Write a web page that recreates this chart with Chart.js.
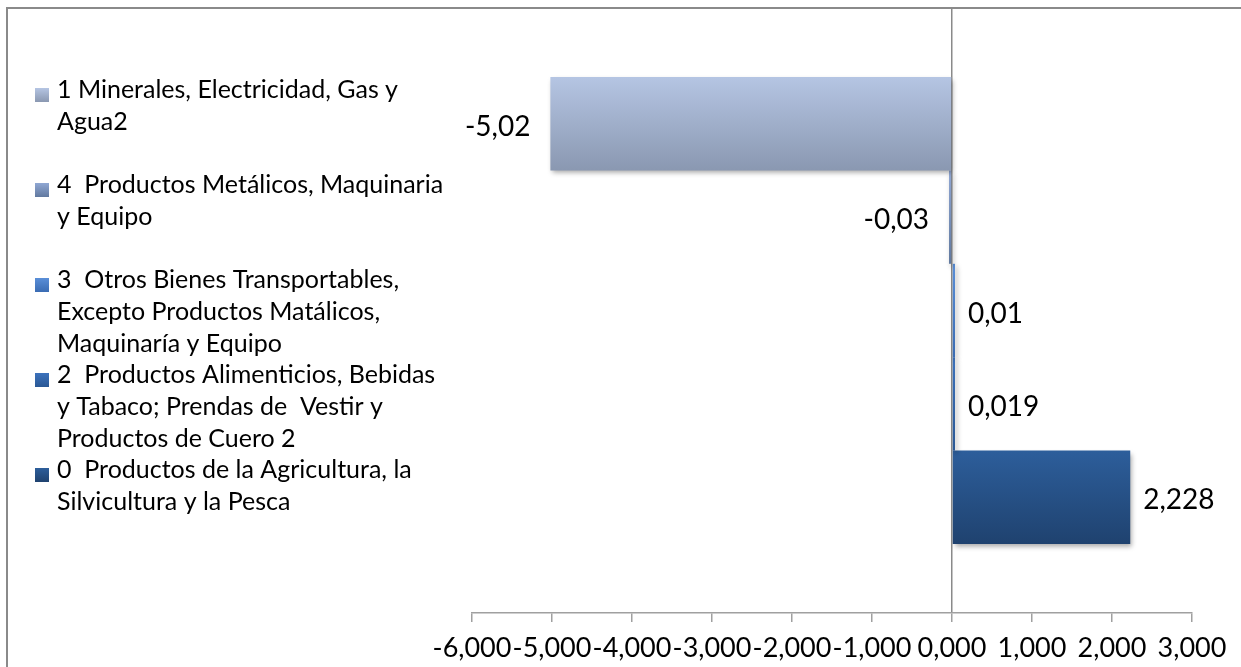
<!DOCTYPE html>
<html><head><meta charset="utf-8">
<script src="https://cdn.jsdelivr.net/npm/chart.js@4.4.1/dist/chart.umd.min.js"></script>
<style>html,body{margin:0;padding:0;background:#fff;overflow:hidden}#wrap{width:1241px;height:667px;position:relative}</style>
</head><body><div id="wrap"><canvas id="c" width="1241" height="667"></canvas></div>
<script>
const categories = [''];
const seriesNames = [
  '1 Minerales, Electricidad, Gas y Agua2',
  '4  Productos Metálicos, Maquinaria y Equipo',
  '3  Otros Bienes Transportables, Excepto Productos Matálicos, Maquinaría y Equipo',
  '2  Productos Alimenticios, Bebidas y Tabaco; Prendas de  Vestir y Productos de Cuero 2',
  '0  Productos de la Agricultura, la Silvicultura y la Pesca'
];
const legendLines = [
  ['1 Minerales, Electricidad, Gas y', 'Agua2'],
  ['4  Productos Metálicos, Maquinaria', 'y Equipo'],
  ['3  Otros Bienes Transportables,', 'Excepto Productos Matálicos,', 'Maquinaría y Equipo'],
  ['2  Productos Alimenticios, Bebidas', 'y Tabaco; Prendas de  Vestir y', 'Productos de Cuero 2'],
  ['0  Productos de la Agricultura, la', 'Silvicultura y la Pesca']
];
const seriesValues = [-5.02, -0.03, 0.01, 0.019, 2.228];
const valueLabels = ['-5,02', '-0,03', '0,01', '0,019', '2,228'];
const tickLabels = ['-6,000','-5,000','-4,000','-3,000','-2,000','-1,000','0,000','1,000','2,000','3,000'];

const gradTop    = ['#B5C5E3', '#90A7D3', '#5A8FD8', '#3C72BC', '#2D5E9B'];
const gradBottom = ['#8A98B1', '#61799F', '#3A6CB3', '#2A5895', '#1F426F'];

const FONT = 'Lato, "Open Sans", sans-serif';

const chartBorder = {
  id: 'chartBorder',
  beforeDraw(chart) {
    const ctx = chart.ctx;
    ctx.save();
    ctx.strokeStyle = '#8a8a8a';
    ctx.lineWidth = 2;
    ctx.strokeRect(7, 8, 1400, 800);
    ctx.restore();
  }
};

const barStyle = {
  id: 'barStyle',
  beforeDatasetsDraw(chart) {
    const ctx = chart.ctx;
    chart.data.datasets.forEach((ds, i) => {
      chart.getDatasetMeta(i).data.forEach(el => {
        const top = el.y - el.height / 2, bot = el.y + el.height / 2;
        const g = ctx.createLinearGradient(0, top, 0, bot);
        g.addColorStop(0, gradTop[i]);
        g.addColorStop(1, gradBottom[i]);
        el.options = Object.assign({}, el.options, { backgroundColor: g });
      });
    });
    ctx.save();
    ctx.shadowColor = 'rgba(0,0,0,0.35)';
    ctx.shadowBlur = 5;
    ctx.shadowOffsetX = 2;
    ctx.shadowOffsetY = 3;
  },
  afterDatasetsDraw(chart) {
    const ctx = chart.ctx;
    ctx.restore();
    ctx.save();
    ctx.font = '28px ' + FONT;
    ctx.fillStyle = '#000';
    ctx.textBaseline = 'middle';
    chart.data.datasets.forEach((ds, i) => {
      chart.getDatasetMeta(i).data.forEach((el, j) => {
        const v = ds.data[j];
        if (v < 0) { ctx.textAlign = 'right'; ctx.fillText(valueLabels[i], el.x - 20, el.y + 3); }
        else { ctx.textAlign = 'left'; ctx.fillText(valueLabels[i], el.x + 13, el.y + 3); }
      });
    });
    ctx.restore();
  },
  afterDraw(chart) {
    const ctx = chart.ctx;
    ctx.save();
    ctx.font = '25px ' + FONT;
    ctx.fillStyle = '#000';
    ctx.textBaseline = 'alphabetic';
    ctx.textAlign = 'left';
    legendLines.forEach((lines, i) => {
      const base = 98 + i * 95;
      const g = ctx.createLinearGradient(0, base - 10, 0, base + 4);
      g.addColorStop(0, gradTop[i]);
      g.addColorStop(1, gradBottom[i]);
      ctx.fillStyle = g;
      ctx.fillRect(35, base - 10, 14, 14);
      ctx.fillStyle = '#000';
      lines.forEach((t, j) => ctx.fillText(t, 57, base + j * 32));
    });
    ctx.restore();
  }
};

const datasets = seriesValues.map((v, i) => ({
  label: seriesNames[i],
  data: [v],
  backgroundColor: gradBottom[i],
  borderWidth: 0,
  barPercentage: 1,
  categoryPercentage: 0.772,
  minBarLength: 3
}));

new Chart(document.getElementById('c'), {
  type: 'bar',
  data: { labels: categories, datasets },
  options: {
    indexAxis: 'y',
    responsive: false,
    animation: false,
    devicePixelRatio: 1,
    layout: { padding: { left: 472, right: 49, top: 8, bottom: 0 } },
    plugins: { legend: { display: false }, tooltip: { enabled: false } },
    scales: {
      y: { display: false },
      x: {
        min: -6, max: 3,
        afterFit(s) { s.height = 54; },
        ticks: {
          stepSize: 1,
          padding: 10,
          color: '#000',
          font: { family: FONT, size: 27 },
          maxRotation: 0,
          autoSkip: false,
          callback: (v, idx) => tickLabels[idx]
        },
        grid: {
          drawOnChartArea: true,
          tickLength: 9,
          lineWidth: 1.5,
          color: c => (c.tick && c.tick.value === 0) ? '#8a8a8a' : 'rgba(0,0,0,0)',
          tickColor: '#a0a0a0'
        },
        border: { display: true, color: '#a0a0a0', width: 1.5 }
      }
    }
  },
  plugins: [chartBorder, barStyle]
});
</script>
</body></html>
